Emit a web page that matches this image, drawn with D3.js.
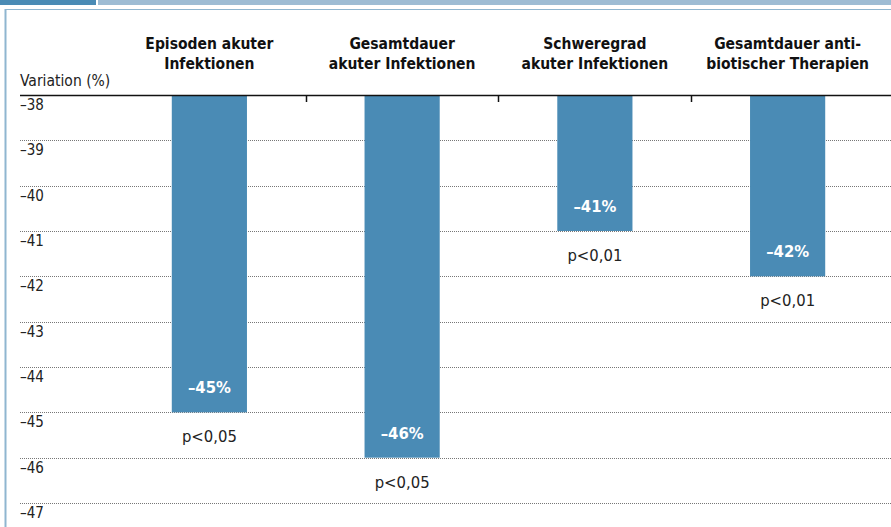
<!DOCTYPE html>
<html>
<head>
<meta charset="utf-8">
<script src="https://cdn.jsdelivr.net/npm/d3@7"></script>
<style>
  html, body { margin: 0; padding: 0; background: #fff; }
  svg { display: block; }
</style>
</head>
<body>
<svg id="chart" width="891" height="527"></svg>
<script>
// Kategorien (zweizeilige Überschriften)
const categories = [
  ["Episoden akuter", "Infektionen"],
  ["Gesamtdauer", "akuter Infektionen"],
  ["Schweregrad", "akuter Infektionen"],
  ["Gesamtdauer anti-", "biotischer Therapien"]
];
// Veränderung in Prozent
const values = [-45, -46, -41, -42];
// Signifikanzangaben
const pLabels = ["p<0,05", "p<0,05", "p<0,01", "p<0,01"];
// Achsenbeschriftung
const yTicks = [-38, -39, -40, -41, -42, -43, -44, -45, -46, -47];
const yLabel = "Variation (%)";

const W = 891, H = 527;
const barColor = "#4a8bb5";
const FONT = "'DejaVu Sans Condensed', 'Liberation Sans', sans-serif";
const svg = d3.select("#chart");

const x = d3.scaleBand()
  .domain(d3.range(categories.length))
  .range([113, 884])
  .paddingInner(0.61)
  .paddingOuter(0.305);

const y = d3.scaleLinear().domain([-38, -47]).range([95, 503]);

const fmt = v => (v < 0 ? "\u2013" + Math.abs(v) : String(v));

// Kopfleiste
svg.append("rect").attr("x", 0).attr("y", 0).attr("width", 96).attr("height", 5).attr("fill", "#4a8bb5");
svg.append("rect").attr("x", 98).attr("y", 0).attr("width", W - 98).attr("height", 5).attr("fill", "#9dbcd4");
// Rahmen
svg.append("line").attr("x1", 5).attr("x2", W).attr("y1", 9.5).attr("y2", 9.5)
  .attr("stroke", "#8fb6d0").attr("stroke-width", 1);
svg.append("line").attr("x1", 5.5).attr("x2", 5.5).attr("y1", 9).attr("y2", H)
  .attr("stroke", "#8fb6d0").attr("stroke-width", 2);

// Gitterlinien (gepunktet)
svg.append("g").selectAll("line")
  .data(yTicks.filter(t => t !== -38))
  .join("line")
  .attr("x1", 20).attr("x2", W)
  .attr("y1", d => Math.round(y(d)) + 0.5).attr("y2", d => Math.round(y(d)) + 0.5)
  .attr("stroke", "#777").attr("stroke-width", 1).attr("stroke-dasharray", "1,1");

// Balken
svg.append("g").selectAll("rect")
  .data(values)
  .join("rect")
  .attr("x", (d, i) => x(i))
  .attr("width", x.bandwidth())
  .attr("y", y(-38))
  .attr("height", d => y(d) - y(-38))
  .attr("fill", barColor);

// Achsenlinie oben
svg.append("line").attr("x1", 20).attr("x2", W).attr("y1", 95.5).attr("y2", 95.5)
  .attr("stroke", "#111").attr("stroke-width", 1.5);

// Trennstriche zwischen Kategorien
const step = x.step();
svg.append("g").selectAll("line")
  .data(d3.range(1, categories.length))
  .join("line")
  .attr("x1", i => Math.round(x(i) - step * x.paddingInner() / 2) + 0.5)
  .attr("x2", i => Math.round(x(i) - step * x.paddingInner() / 2) + 0.5)
  .attr("y1", 95).attr("y2", 102)
  .attr("stroke", "#111").attr("stroke-width", 1.5);

// y-Achsenbeschriftung
svg.append("g").selectAll("text")
  .data(yTicks)
  .join("text")
  .attr("x", 20)
  .attr("y", d => y(d) + 15)
  .attr("font-family", FONT)
  .attr("font-size", 15)
  .attr("fill", "#222")
  .text(fmt);

svg.append("text")
  .attr("x", 20).attr("y", 86)
  .attr("font-family", FONT)
  .attr("font-size", 15.5)
  .attr("fill", "#222")
  .text(yLabel);

// Kategorienüberschriften
const heads = svg.append("g").selectAll("text")
  .data(categories)
  .join("text")
  .attr("text-anchor", "middle")
  .attr("font-family", FONT)
  .attr("font-weight", "bold")
  .attr("font-size", 15.5)
  .attr("fill", "#111");
heads.each(function(d, i) {
  const t = d3.select(this);
  d.forEach((line, k) => {
    t.append("tspan")
      .attr("x", x(i) + x.bandwidth() / 2)
      .attr("y", 49 + k * 20)
      .text(line);
  });
});

// Werte in den Balken
svg.append("g").selectAll("text")
  .data(values)
  .join("text")
  .attr("text-anchor", "middle")
  .attr("x", (d, i) => x(i) + x.bandwidth() / 2)
  .attr("y", d => y(d) - 19)
  .attr("font-family", FONT)
  .attr("font-weight", "bold")
  .attr("font-size", 16.5)
  .attr("fill", "#fff")
  .text(d => fmt(d) + "%");

// p-Werte unter den Balken
svg.append("g").selectAll("text")
  .data(values)
  .join("text")
  .attr("text-anchor", "middle")
  .attr("x", (d, i) => x(i) + x.bandwidth() / 2)
  .attr("y", d => y(d) + 30)
  .attr("font-family", FONT)
  .attr("font-size", 16.5)
  .attr("fill", "#222")
  .text((d, i) => pLabels[i]);
</script>
</body>
</html>
